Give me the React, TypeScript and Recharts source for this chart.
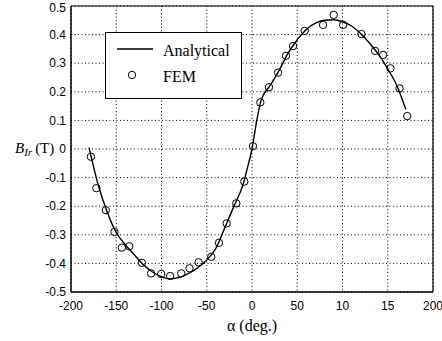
import React from 'react';
import { ComposedChart, Line, Scatter, CartesianGrid, XAxis, YAxis, ReferenceLine } from 'recharts';

// x axis (alpha, deg.)
const xTicks = [-200, -150, -100, -50, 0, 50, 100, 150, 200];
const xTickLabels = ['-200', '-150', '-100', '-50', '0', '50', '10', '15', '200'];
// y axis (B_Ir, T)
const yTicks = [-0.5, -0.4, -0.3, -0.2, -0.1, 0, 0.1, 0.2, 0.3, 0.4, 0.5];
const yTickLabels = ['-0.5', '-0.4', '-0.3', '-0.2', '-0.1', '0', '0.1', '0.2', '0.3', '0.4', '0.5'];

// analytical curve
const analyticalAlpha = [-180, -170, -160, -150, -140, -130, -120, -110, -100, -90, -80, -70, -60, -50, -40, -30, -20, -10, -5, 0, 5, 10, 20, 30, 40, 50, 60, 70, 80, 90, 100, 110, 120, 130, 140, 150, 160, 170];
const analyticalB = [0.005, -0.125, -0.22, -0.292, -0.335, -0.37, -0.405, -0.43, -0.447, -0.454, -0.449, -0.435, -0.415, -0.388, -0.348, -0.275, -0.2, -0.125, -0.065, 0.0, 0.095, 0.17, 0.222, 0.275, 0.336, 0.382, 0.418, 0.44, 0.45, 0.452, 0.445, 0.43, 0.404, 0.37, 0.33, 0.28, 0.222, 0.138];

// FEM samples
const femAlpha = [-178, -172, -161.5, -152, -143.8, -135.7, -121.7, -111.5, -100.3, -90.4, -78.2, -69, -59, -45, -36.5, -28, -17.4, -8.5, 1.1, 9.2, 18.8, 28.8, 37.6, 45.4, 58.2, 78.5, 90.3, 100.7, 120.9, 136, 144.9, 153, 163, 171.5];
const femB = [-0.027, -0.137, -0.214, -0.29, -0.345, -0.34, -0.398, -0.435, -0.437, -0.444, -0.435, -0.417, -0.396, -0.377, -0.328, -0.26, -0.19, -0.114, 0.01, 0.163, 0.216, 0.267, 0.326, 0.36, 0.413, 0.434, 0.469, 0.434, 0.402, 0.343, 0.329, 0.282, 0.212, 0.115];

const analytical = analyticalAlpha.map((x, i) => ({ x, y: analyticalB[i] }));
const fem = femAlpha.map((x, i) => ({ x, y: femB[i] }));

const tickFont = { fontFamily: '"Liberation Sans", Arial, sans-serif', fontSize: 12, fill: '#000' };
const serif = '"Liberation Serif", "Times New Roman", serif';

const FemDot = (props: any) => {
  const { cx, cy } = props;
  if (cx == null || cy == null) return null;
  return <circle cx={cx} cy={cy} r={3.7} fill="none" stroke="#000" strokeWidth={1} />;
};

// legend box drawn on top of the plot, like the MATLAB one
const LegendBox = () => (
  <svg width={137} height={67} style={{ position: 'absolute', left: 105, top: 32 }}>
    <rect x={0.5} y={0.5} width={136} height={66} fill="#fff" stroke="#000" strokeWidth={1} />
    <line x1={12} x2={48} y1={17} y2={17} stroke="#000" strokeWidth={1.5} />
    <circle cx={27} cy={43} r={3.7} fill="none" stroke="#000" strokeWidth={1} />
    <text x={58} y={24} fontFamily={serif} fontSize={16} fill="#000">Analytical</text>
    <text x={58} y={50} fontFamily={serif} fontSize={16} fill="#000">FEM</text>
  </svg>
);

const YLabel = () => (
  <text x={15} y={153} fontFamily={serif} fontSize={15} fill="#000">
    <tspan fontStyle="italic">B</tspan>
    <tspan fontStyle="italic" fontSize={11} dy={3}>Ir</tspan>
    <tspan dy={-3} dx={3}>(T)</tspan>
  </text>
);

export default function App() {
  return (
    <div style={{ position: 'absolute', left: 0, top: 0, width: 442, height: 341, background: '#fff' }}>
      <ComposedChart width={442} height={341} margin={{ top: 6, right: 9, left: 0, bottom: 0 }}>
        <CartesianGrid stroke="#000" strokeDasharray="1 2.5" strokeWidth={1} />
        <XAxis
          type="number"
          dataKey="x"
          domain={[-200, 200]}
          ticks={xTicks}
          tickFormatter={(v: number) => xTickLabels[xTicks.indexOf(v)] ?? String(v)}
          tick={tickFont}
          tickSize={0}
          tickMargin={9}
          height={49}
          axisLine={{ stroke: '#000', strokeWidth: 1.5 }}
          label={{ value: 'α (deg.)', position: 'insideBottom', offset: 10, style: { fontFamily: serif, fontSize: 16, fill: '#000' } }}
        />
        <YAxis
          type="number"
          domain={[-0.5, 0.5]}
          ticks={yTicks}
          tickFormatter={(v: number) => yTickLabels[yTicks.indexOf(v)] ?? String(v)}
          tick={tickFont}
          tickSize={0}
          tickMargin={5}
          width={71}
          axisLine={{ stroke: '#000', strokeWidth: 1.5 }}
          label={{ content: () => <YLabel /> }}
        />
        <ReferenceLine x={200} stroke="#000" strokeWidth={1.2} />
        <ReferenceLine y={0.5} stroke="#000" strokeWidth={1.2} />
        <Line data={analytical} dataKey="y" type="monotone" stroke="#000" strokeWidth={1.4} dot={false} isAnimationActive={false} name="Analytical" />
        <Scatter data={fem} dataKey="y" shape={<FemDot />} isAnimationActive={false} name="FEM" />
      </ComposedChart>
      <LegendBox />
    </div>
  );
}
